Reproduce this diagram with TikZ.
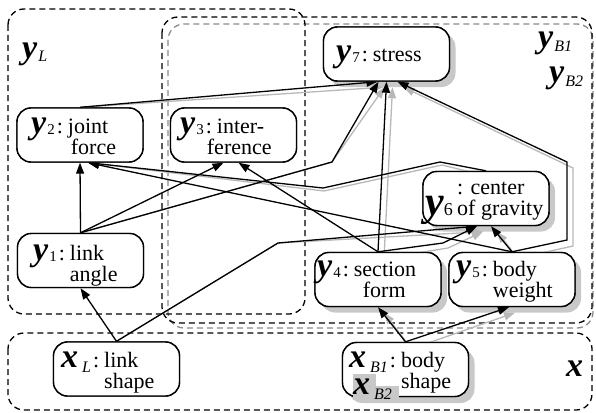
\documentclass[tikz,border=0pt]{standalone}
\usepackage{fontspec}
\setmainfont{Liberation Serif}
\usetikzlibrary{arrows.meta}
\definecolor{shadowgray}{HTML}{C8C8C8}
\definecolor{linegray}{HTML}{B8B8B8}
\definecolor{boxgray}{HTML}{8A8A8A}
\newcommand{\bigv}[1]{{\fontsize{34}{34}\selectfont\bfseries\itshape #1}}
\newcommand{\Ysub}[1]{\smash{\bigv{y}\kern1pt\raisebox{-1pt}{\fontsize{15}{15}\selectfont #1}}}
\newcommand{\Xsub}[1]{\smash{\bigv{x}\kern4pt\raisebox{-5pt}{\fontsize{16}{16}\selectfont\itshape #1}}}
\newcommand{\Ylab}[1]{\smash{\bigv{y}\kern1pt\raisebox{-4pt}{\fontsize{16}{16}\selectfont\itshape #1}}}
\newcommand{\Ysix}{\smash{{\fontsize{42}{42}\selectfont\bfseries\itshape y}\kern0pt{\fontsize{18}{18}\selectfont 6}}}
\newcommand{\colsep}{\kern2pt:\kern5pt}
\begin{document}
\begin{tikzpicture}[x=1pt,y=-1pt,
  box/.style={draw, line width=1.4pt, rounded corners=14pt, fill=white,
    minimum width=126pt, minimum height=54pt, inner sep=0pt},
  shbox/.style={fill=shadowgray, rounded corners=14pt,
    minimum width=126pt, minimum height=54pt, inner sep=0pt},
  edge/.style={line width=1.3pt, -{Triangle[length=11pt,width=8pt]}},
  gedge/.style={edge, draw=linegray, color=linegray},
  grp/.style={draw, dash pattern=on 6pt off 4pt, line width=1.3pt, rounded corners=16pt},
  lbl/.style={anchor=base west, inner sep=0pt, font=\fontsize{22}{20}\selectfont}]
\useasboundingbox (0,0) rectangle (596,412);

% group boxes
\draw[grp, draw=boxgray] (168,24) rectangle (593,328);
\draw[grp] (162,17) rectangle (592,323);
\draw[grp] (8,9) rectangle (305,314);
\draw[grp] (8,333) rectangle (592,410);

% group labels
\node[lbl] (yL) at (22,58) {\Ylab{L}};
\node[lbl] (yB1) at (538,48) {\Ylab{B1}};
\node[lbl] (yB2) at (549,82) {\Ylab{B2}};
\node[lbl] (xg) at (566,376) {\bigv{x}};

% shadow nodes (B2 layer)
\node[shbox] (y7s) at (392.5,60) {};
\node[shbox] (y6s) at (492,204.5) {};
\node[shbox] (y4s) at (384,285.5) {};
\node[shbox] (y5s) at (518,285.5) {};
\node[shbox] (xB1s) at (411.5,376) {};

% bend coordinates
\coordinate (b1) at (278,243);
\coordinate (b2) at (332,162);
\coordinate (b3a) at (567,240);
\coordinate (b3b) at (567,162);
\coordinate (b4a) at (440,162);
\coordinate (b4b) at (323,188);
\coordinate (b5) at (443,243);
\coordinate (g3a) at (573,246);
\coordinate (g3b) at (573,168);
\coordinate (g4a) at (442,165);
\coordinate (g4b) at (324,191);
\coordinate (g5) at (448,248);

% main nodes
\path (386.5,54) node[box] (y7) {};
\path (80,135) node[box] (y2) {};
\path (233.5,135) node[box] (y3) {};
\path (486,198.5) node[box] (y6) {};
\path (80.5,260.5) node[box] (y1) {};
\path (378,279.5) node[box] (y4) {};
\path (512,279.5) node[box] (y5) {};
\path (116.5,369) node[box] (xL) {};
\path (405.5,369.5) node[box] (xB1) {};

% gray edges (B2 layer)
\draw[gedge] (y2.north) -- ([xshift=-9pt]y7s.south);
\draw[gedge] (y1.north) -- (b2) -- ([xshift=-8pt]y7s.south);
\draw[gedge] (y4s.north) -- (y7s.south);
\draw[gedge] (y5s.north) -- (g3a) -- (g3b) -- ([xshift=11pt]y7s.south);
\draw[gedge] (y6s.north) -- (g4a) -- (g4b) -- ([xshift=8pt]y2.south);
\draw[gedge] (y4s.north) -- (g5) -- ([xshift=-9pt]y6s.south);
\draw[gedge] (y5s.north) -- ([xshift=5pt]y6s.south);
\draw[gedge] (xB1s.north) -- (y4s.south);
\draw[gedge] (xB1s.north) -- ([xshift=-3pt]y5s.south);
\draw[gedge] (xL.north) -- (b1) -- ([xshift=-9pt]y6s.south);

% black edges
\draw[edge] (y1.north) -- (y2.south);
\draw[edge] (xL.north) -- (y1.south);
\draw[edge] (xL.north) -- (b1) -- ([xshift=-9pt]y6.south);
\draw[edge] (y1.north) -- ([xshift=-10pt]y3.south);
\draw[edge] (y1.north) -- (b2) -- ([xshift=-8pt]y7.south);
\draw[edge] (y2.north) -- ([xshift=-9pt]y7.south);
\draw[edge] (y4.north) -- (y7.south);
\draw[edge] (y5.north) -- (b3a) -- (b3b) -- ([xshift=11pt]y7.south);
\draw[edge] (y5.north) -- ([xshift=8pt]y2.south);
\draw[edge] (y6.north) -- (b4a) -- (b4b) -- ([xshift=8pt]y2.south);
\draw[edge] (y4.north) -- ([xshift=5pt]y3.south);
\draw[edge] (y4.north) -- (b5) -- ([xshift=-9pt]y6.south);
\draw[edge] (y5.north) -- ([xshift=5pt]y6.south);
\draw[edge] (xB1.north) -- (y4.south);
\draw[edge] (xB1.north) -- ([xshift=-3pt]y5.south);

% boxes on top of edges
\node[box] (y7f) at (y7) {};
\node[box] (y2f) at (y2) {};
\node[box] (y3f) at (y3) {};
\node[box] (y6f) at (y6) {};
\node[box] (y1f) at (y1) {};
\node[box] (y4f) at (y4) {};
\node[box] (y5f) at (y5) {};
\node[box] (xLf) at (xL) {};
\node[box] (xB1f) at (xB1) {};

% x_B2 gray patch
\fill[shadowgray] (353,374) rectangle (376,400);
\fill[shadowgray] (376,386) rectangle (399,400);

% node texts
\node[lbl] (y7t) at (336,62) {\begin{tabular}[t]{@{}l@{}l@{}}\Ysub{7}\colsep & stress\end{tabular}};
\node[lbl] (y2t) at (31,133) {\begin{tabular}[t]{@{}l@{}l@{}}\Ysub{2}\colsep & joint\\ & \hspace*{3pt}force\end{tabular}};
\node[lbl] (y3t) at (180,133) {\begin{tabular}[t]{@{}l@{}l@{}}\Ysub{3}\colsep & inter-\\ & \hspace*{-10pt}ference\end{tabular}};
\node[lbl] (y6t) at (425,194) {\begin{tabular}[t]{@{}l@{}l@{}} & : center\\ \makebox[32pt][l]{\Ysix} & of gravity\end{tabular}};
\node[lbl] (y1t) at (33,260) {\begin{tabular}[t]{@{}l@{}l@{}}\Ysub{1}\colsep & link\\ & angle\end{tabular}};
\node[lbl] (y4t) at (317,276) {\begin{tabular}[t]{@{}l@{}l@{}}\Ysub{4}\colsep & section\\ & \hspace*{9pt}form\end{tabular}};
\node[lbl] (y5t) at (456,276) {\begin{tabular}[t]{@{}l@{}l@{}}\Ysub{5}\colsep & body\\ & weight\end{tabular}};
\node[lbl] (xLt) at (61,367) {\begin{tabular}[t]{@{}l@{}l@{}}\Xsub{L}\colsep & link\\ & shape\end{tabular}};
\node[lbl] (xB1t) at (349,367) {\begin{tabular}[t]{@{}l@{}l@{}}\Xsub{B1}\colsep & body\\ \kern4pt\raisebox{-6pt}{\Xsub{B2}} & shape\end{tabular}};
\end{tikzpicture}
\end{document}
